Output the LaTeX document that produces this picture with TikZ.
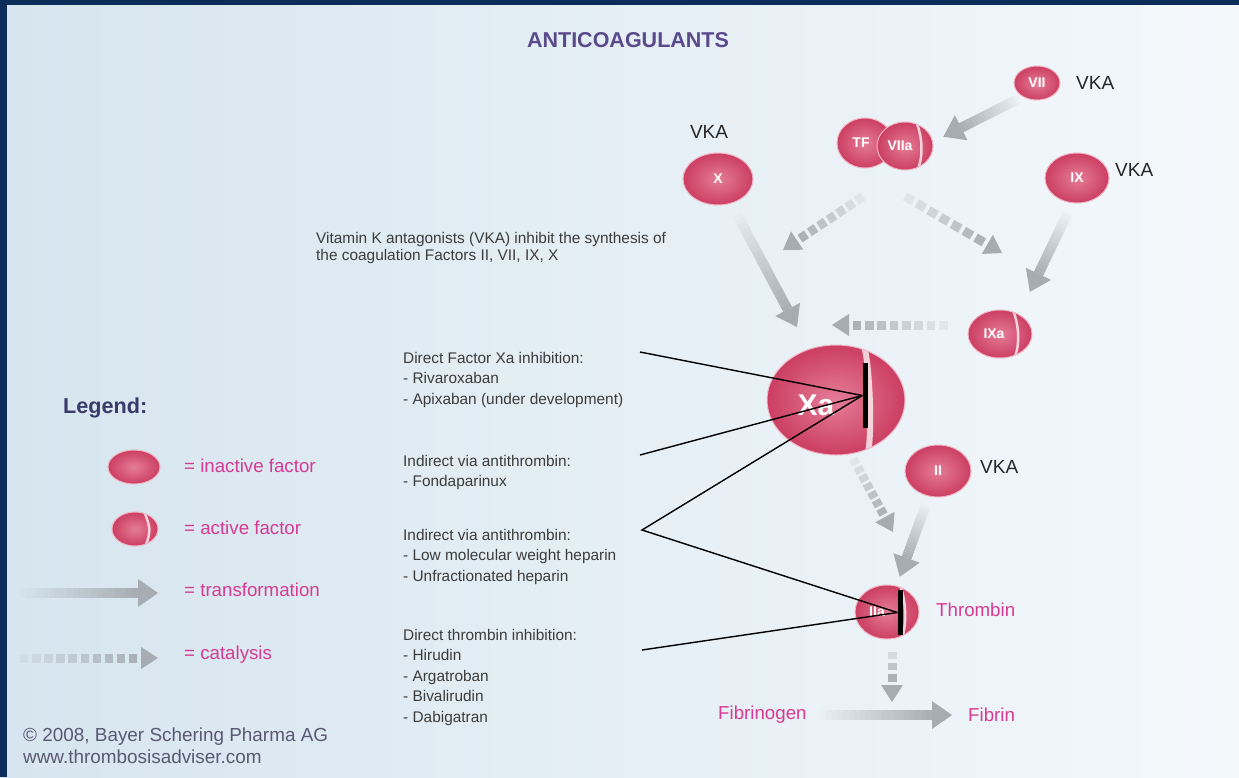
\documentclass[tikz,border=0pt]{standalone}
\usepackage{fontspec}
\setmainfont{Liberation Sans}
\usetikzlibrary{calc,shapes.geometric}

\definecolor{framebl}{HTML}{0C2C5A}
\definecolor{bgleft}{HTML}{D6E5EF}
\definecolor{bgright}{HTML}{F4F8FB}
\definecolor{arrowgray}{HTML}{A6ACB1}
\definecolor{factorin}{HTML}{E57D96}
\definecolor{factorout}{HTML}{CB3E62}
\definecolor{factoredge}{HTML}{F0B4C2}
\definecolor{notegray}{HTML}{3C3C3C}
\definecolor{labelpink}{HTML}{D63A92}
\definecolor{titlepurple}{HTML}{5A4A8C}
\definecolor{legendnavy}{HTML}{3B3A6B}
\definecolor{copygray}{HTML}{5A5873}

\tikzset{
  factor/.style={ellipse, inner sep=0, draw=factoredge, line width=1,
    inner color=factorin, outer color=factorout, text=white,
    font=\bfseries\fontsize{14}{16}\selectfont},
  factortext/.style={inner sep=0, text=white, font=\bfseries\fontsize{14}{16}\selectfont},
  crack/.style={white, opacity=.75, line width=2.5},
  active/.style={factor, path picture={
    \draw[crack] ($(path picture bounding box.north)!.4!(path picture bounding box.north east)$)
      .. controls +(6,14) and +(6,-14) ..
      ($(path picture bounding box.south)!.45!(path picture bounding box.south east)$);}},
  trbody/.style={arrowgray, line width=10},
  catbody/.style={arrowgray, line width=9},
  inhibit/.style={rectangle, fill=black, inner sep=0, minimum width=5},
  inhline/.style={black, line width=1.4},
  note/.style={inner sep=0, anchor=north west, align=left, text=notegray,
    font=\fontsize{15.4}{20.5}\selectfont},
  pinklabel/.style={inner sep=0, anchor=west, text=labelpink, font=\fontsize{18.7}{22}\selectfont},
  vka/.style={inner sep=0, text=black!85, font=\fontsize{19}{22}\selectfont},
}

% grey arrow fading in from its tail
\newcommand{\transarrow}[2]{%
  \coordinate (hb) at ($(#2)!20pt!(#1)$);
  \foreach \k [evaluate=\k as \op using 0.04+0.048*\k] in {0,...,19}
    \draw[trbody, draw opacity=\op] ($(#1)!\k/20!(hb)$) -- ($(#1)!\k/20+0.05!(hb)$);
  \fill[arrowgray] (#2) -- ($(hb)!14pt!90:(#2)$) -- ($(hb)!14pt!-90:(#2)$) -- cycle;
}
% dashed grey arrow, optional number of dashes
\newcommand{\catarrow}[3][7]{%
  \coordinate (hb) at ($(#3)!17pt!(#2)$);
  \foreach \k [evaluate=\k as \op using 0.05+0.85*\k/#1,
               evaluate=\k as \st using (\k-1)/#1,
               evaluate=\k as \en using (\k-0.3)/#1] in {1,...,#1}
    \draw[catbody, draw opacity=\op] ($(#2)!\st!(hb)$) -- ($(#2)!\en!(hb)$);
  \fill[arrowgray] (#3) -- ($(hb)!11pt!90:(#3)$) -- ($(hb)!11pt!-90:(#3)$) -- cycle;
}

\begin{document}
\begin{tikzpicture}[x=1pt, y=-1pt]
  \useasboundingbox (0,0) rectangle (1239,777);
  \shade[left color=bgleft, right color=bgright] (0,0) rectangle (1239,777);
  \fill[framebl] (0,0) rectangle (1239,5);
  \fill[framebl] (0,0) rectangle (7,777);

  \node[font=\bfseries\fontsize{21.5}{24}\selectfont, text=titlepurple] (title) at (628,40) {ANTICOAGULANTS};

  % factors
  \node[factor, minimum width=46, minimum height=34] (vii) at (1037,83) {VII};
  \node[vka, anchor=west] (vka-vii) at (1076,83) {VKA};
  \node[factor, minimum width=56, minimum height=50, label={[factortext, xshift=-4]center:TF}] (tf) at (865,143) {};
  \node[active, minimum width=56, minimum height=48, label={[factortext, xshift=-5]center:VIIa}] (viia) at (905,146) {};
  \node[factor, minimum width=70, minimum height=52] (x) at (718,179) {X};
  \node[vka] (vka-x) at (709,132) {VKA};
  \node[factor, minimum width=64, minimum height=50] (ix) at (1077,178) {IX};
  \node[vka, anchor=west] (vka-ix) at (1115,170) {VKA};
  \node[active, minimum width=64, minimum height=48, label={[factortext, xshift=-6]center:IXa}] (ixa) at (1000,334) {};
  \node[active, minimum width=138, minimum height=110, crack/.append style={line width=6},
    label={[factortext, font=\bfseries\fontsize{30}{32}\selectfont, xshift=-20, yshift=-5]center:Xa}] (xa) at (836,400) {};
  \node[factor, minimum width=66, minimum height=52] (ii) at (938,471) {II};
  \node[vka, anchor=west] (vka-ii) at (980,467) {VKA};
  \node[active, minimum width=64, minimum height=54, label={[factortext, xshift=-10]center:IIa}] (iia) at (887,612) {};

  \node[pinklabel] (thrombin) at (936,610) {Thrombin};
  \node[pinklabel] (fibrinogen) at (718,715) {Fibrinogen};
  \node[pinklabel] (fibrin) at (968,715) {Fibrin};

  % transformations
  \coordinate (vii-out) at ($(vii)!.13!(viia)+(0,7)$);
  \coordinate (viia-in) at ($(vii)!.71!(viia)+(0,9)$);
  \transarrow{vii-out}{viia-in}
  \coordinate (x-out) at ($(x)!.16!(xa)$);
  \coordinate (xa-in) at ($(x)!.67!(xa)$);
  \transarrow{x-out}{xa-in}
  \coordinate (ix-out) at ($(ix)!.22!(ixa)+(8,0)$);
  \coordinate (ixa-in) at ($(ix)!.73!(ixa)+(9,0)$);
  \transarrow{ix-out}{ixa-in}
  \coordinate (ii-out) at ($(ii)!.24!(iia)$);
  \coordinate (iia-in) at ($(ii)!.75!(iia)$);
  \transarrow{ii-out}{iia-in}
  \coordinate (fibrinogen-out) at ($(fibrinogen.east)+(14,0)$);
  \coordinate (fibrin-in) at ($(fibrin.west)+(-16,0)$);
  \transarrow{fibrinogen-out}{fibrin-in}

  % catalysis
  \coordinate (xact) at (783,250);
  \coordinate (ixact) at (1002,253);
  \coordinate (xa-cat) at (832,325);
  \coordinate (iiact) at (893,532);
  \coordinate (fibact) at (892,702);
  \coordinate (tf-cat) at ($(tf.south)+(-2,28)$);
  \coordinate (viia-cat) at ($(viia.south)+(0,26)$);
  \coordinate (ixa-cat) at ($(ixa.west)+(-20,-9)$);
  \coordinate (xa-out) at ($(xa.south)+(17,3)$);
  \coordinate (iia-out) at ($(iia.south)+(5,12)$);
  \catarrow{tf-cat}{xact}
  \catarrow{viia-cat}{ixact}
  \catarrow[8]{ixa-cat}{xa-cat}
  \catarrow{xa-out}{iiact}
  \catarrow[3]{iia-out}{fibact}

  % notes
  \node[note, font=\fontsize{15.4}{17}\selectfont] (vka-note) at (316,232)
    {Vitamin K antagonists (VKA) inhibit the synthesis of\\the coagulation Factors II, VII, IX, X};
  \node[note] (direct-xa) at (403,352) {Direct Factor Xa inhibition:\\- Rivaroxaban\\- Apixaban (under development)};
  \node[note] (fonda) at (403,455) {Indirect via antithrombin:\\- Fondaparinux};
  \node[note] (heparin) at (403,529) {Indirect via antithrombin:\\- Low molecular weight heparin\\- Unfractionated heparin};
  \node[note] (direct-iia) at (403,629) {Direct thrombin inhibition:\\- Hirudin\\- Argatroban\\- Bivalirudin\\- Dabigatran};

  % inhibition lines
  \coordinate (direct-xa-end) at (640,352);
  \coordinate (fonda-end) at (640,455);
  \coordinate (heparin-end) at (642,530);
  \coordinate (direct-iia-end) at (642,650);
  \node[inhibit, minimum height=65] (xabar) at (865,395.5) {};
  \node[inhibit, minimum height=45] (iiabar) at (900,612.5) {};
  \draw[inhline] (direct-xa-end) -- (xabar.west);
  \draw[inhline] (fonda-end) -- (xabar.west);
  \draw[inhline] (xabar.west) -- (heparin-end) -- (iiabar.west);
  \draw[inhline] (direct-iia-end) -- (iiabar.west);
  \node[inhibit, minimum height=65] at (xabar) {};
  \node[inhibit, minimum height=45] at (iiabar) {};

  % legend
  \node[anchor=west, inner sep=0, text=legendnavy, font=\bfseries\fontsize{21.6}{24}\selectfont] (legend) at (63,408) {Legend:};
  \node[factor, minimum width=52, minimum height=34] (leg-inactive) at (134,467) {};
  \node[pinklabel] (leg-inactive-text) at (184,466) {= inactive factor};
  \node[active, minimum width=46, minimum height=34] (leg-active) at (135,529) {};
  \node[pinklabel] (leg-active-text) at (184,528) {= active factor};
  \coordinate (leg-tr-a) at (20,593);
  \coordinate (leg-tr-b) at (158,593);
  \transarrow{leg-tr-a}{leg-tr-b}
  \node[pinklabel] (leg-tr-text) at (184,590) {= transformation};
  \coordinate (leg-cat-a) at (20,658);
  \coordinate (leg-cat-b) at (158,658);
  \catarrow[10]{leg-cat-a}{leg-cat-b}
  \node[pinklabel] (leg-cat-text) at (184,655) {= catalysis};

  \node[note, text=copygray, font=\fontsize{18.9}{22}\selectfont] (copyright) at (23,728)
    {© 2008, Bayer Schering Pharma AG\\www.thrombosisadviser.com};
\end{tikzpicture}
\end{document}
